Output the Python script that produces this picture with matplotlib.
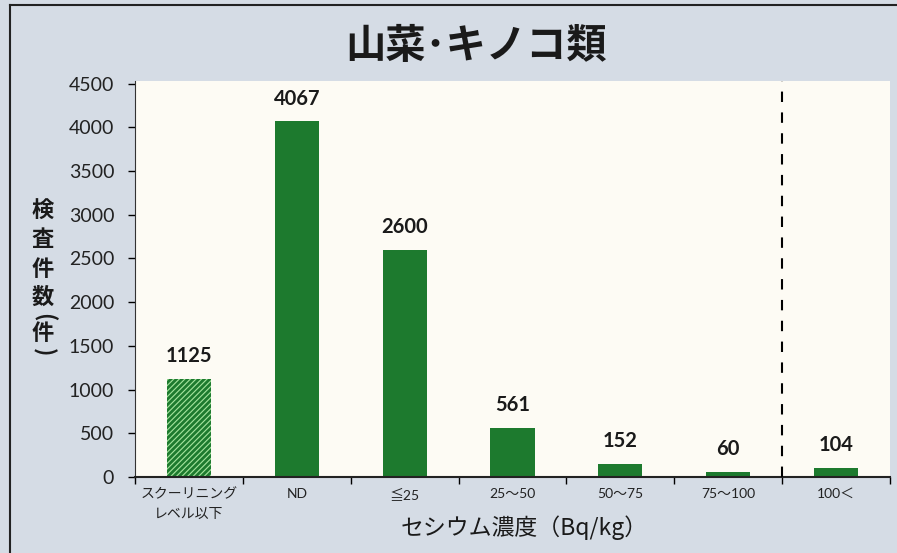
import matplotlib
matplotlib.use("Agg")
import matplotlib.pyplot as plt
from matplotlib.lines import Line2D

plt.rcParams['font.family'] = ['Lato', 'Noto Sans CJK JP', 'DejaVu Sans']
plt.rcParams['hatch.linewidth'] = 2.0

categories = ['スクーリニング\nレベル以下', 'ND', '≦25', '25〜50', '50〜75', '75〜100', '100＜']
counts = [1125, 4067, 2600, 561, 152, 60, 104]
yticks = [0, 500, 1000, 1500, 2000, 2500, 3000, 3500, 4000, 4500]

dark_green = '#1d7a2e'
light_green = '#a3e39c'
frame_bg = '#d5dce5'
plot_bg = '#fdfbf4'

fig = plt.figure(figsize=(8.97, 5.53), dpi=100)
fig.patch.set_facecolor(frame_bg)
# frame: only the left and top edges are inside the picture
fx, fy = 10 / 897, 1 - 5 / 553
fig.add_artist(Line2D([fx, fx], [0, fy], transform=fig.transFigure,
                      color='#222222', linewidth=1.5))
fig.add_artist(Line2D([fx, 1], [fy, fy], transform=fig.transFigure,
                      color='#222222', linewidth=1.5))

ax = fig.add_axes([135 / 897, 1 - 477 / 553, (890 - 135) / 897, (477 - 81) / 553])
ax.set_facecolor(plot_bg)

x = list(range(len(categories)))
bars = ax.bar(x, counts, width=0.41, color=dark_green, zorder=2)
bars[0].set_facecolor(light_green)
bars[0].set_edgecolor(dark_green)
bars[0].set_linewidth(0)
bars[0].set_hatch('//////')

for xi, v in zip(x, counts):
    ax.annotate(str(v), xy=(xi, v), xytext=(0, 9), textcoords='offset points',
                ha='center', va='bottom', fontsize=14.5, fontweight='bold',
                color='#1a1a1a')

ax.axvline(5.5, color='black', linestyle=(0, (5, 5)), linewidth=1.5, zorder=3)

ax.set_xlim(-0.5, len(categories) - 0.5)
ax.set_ylim(0, 4530)
ax.set_yticks(yticks)
ax.set_yticklabels([str(t) for t in yticks], fontsize=14, color='#222222')
ax.set_xticks([i + 0.5 for i in range(-1, len(categories))], minor=False)
ax.set_xticklabels([])
ax.set_xticks(x, minor=True)
ax.set_xticklabels(categories, minor=True, fontsize=10, color='#222222',
                   linespacing=1.7)
ax.tick_params(axis='x', which='minor', length=0, pad=8)
ax.tick_params(axis='x', which='major', length=5, direction='out', width=1)
ax.tick_params(axis='y', length=5, width=1, direction='out', pad=10)

for side in ['top', 'right']:
    ax.spines[side].set_visible(False)
ax.spines['left'].set_color('#333333')
ax.spines['bottom'].set_color('#222222')
ax.spines['bottom'].set_linewidth(1.5)

fig.text(476 / 897, 1 - 47 / 553, '山菜･キノコ類', ha='center', va='center',
         fontsize=29, fontweight='bold', family=['Noto Sans CJK JP'], color='#1a1a1a')
fig.text(524 / 897, 1 - 528 / 553, 'セシウム濃度（Bq/kg）', ha='center', va='center',
         fontsize=16.5, family=['Noto Sans CJK JP'], color='#1a1a1a')

# vertical y-axis title, one character at a time
ylabel_chars = ['検', '査', '件', '数', '(', '件', ')']
ylabel_pos = [211, 239, 269, 297, 317, 333, 352]
for ch, py in zip(ylabel_chars, ylabel_pos):
    rot = -90 if ch in '()' else 0
    fig.text(43 / 897, 1 - py / 553, ch, ha='center', va='center', rotation=rot,
             fontsize=16, fontweight='bold', family=['Noto Sans CJK JP'],
             color='#1a1a1a')

fig.savefig('out.png', dpi=100, facecolor=fig.get_facecolor())
